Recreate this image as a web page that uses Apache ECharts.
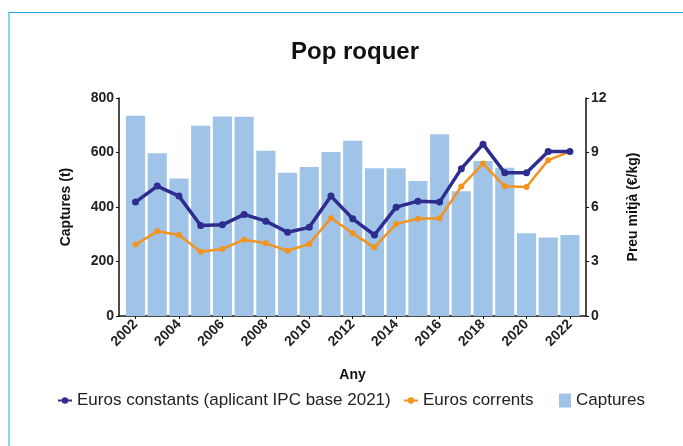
<!DOCTYPE html>
<html><head><meta charset="utf-8">
<script src="https://cdn.jsdelivr.net/npm/echarts@6/dist/echarts.min.js"></script>
<style>
html,body{margin:0;padding:0;background:#fff;}
#frame{position:absolute;left:8px;top:12px;width:700px;height:460px;border-top:1.5px solid #1ba2de;border-left:2px solid #8ed2f3;box-sizing:border-box;}
#chart{position:absolute;left:0;top:0;width:683px;height:446px;}
</style></head>
<body>
<div id="frame"></div>
<div id="chart"></div>
<script>
var years = [2002,2003,2004,2005,2006,2007,2008,2009,2010,2011,2012,2013,2014,2015,2016,2017,2018,2019,2020,2021,2022];
var captures = [735,597,505,698,732,731,606,526,547,602,643,542,542,495,667,458,569,544,304,288,297];
var eurosConstants = [6.27,7.15,6.6,4.98,5.02,5.59,5.22,4.61,4.88,6.6,5.35,4.46,5.99,6.32,6.27,8.11,9.46,7.88,7.88,9.05,9.05];
var eurosCorrents = [3.93,4.66,4.46,3.54,3.69,4.2,4.0,3.59,3.96,5.4,4.55,3.78,5.07,5.35,5.38,7.13,8.39,7.14,7.1,8.58,9.05];
var xTickLabels = [2002,2004,2006,2008,2010,2012,2014,2016,2018,2020,2022];
var leftTicks = [0,200,400,600,800];
var rightTicks = [0,3,6,9,12];

function pairs(vals){ return years.map(function(y,i){ return [y, vals[i]]; }); }

var FONT = '"Liberation Sans", Arial, sans-serif';
var chart = echarts.init(document.getElementById('chart'), null, {renderer:'canvas'});
var axisLabelStyle = {fontFamily: FONT, fontSize: 14, fontWeight: 'bold', color: '#222'};
var legendText = {fontFamily: FONT, fontSize: 17, color: '#222'};
chart.setOption({
  animation: false,
  title: {text: 'Pop roquer', left: 350, top: 35, textAlign: 'center',
    textStyle: {fontFamily: FONT, fontSize: 24, fontWeight: 'bold', color: '#111'}},
  grid: {left: 119, right: 97, top: 98, bottom: 130},
  legend: [
    {left: 52, top: 387, itemWidth: 14, itemHeight: 8, itemGap: 0, textStyle: legendText, data: [{name: 'Euros constants (aplicant IPC base 2021)'}]},
    {left: 398, top: 387, itemWidth: 14, itemHeight: 8, itemGap: 0, textStyle: legendText, data: [{name: 'Euros corrents'}]},
    {left: 554, top: 387, itemWidth: 12, itemHeight: 14, itemGap: 0, textStyle: legendText, data: [{name: 'Captures', icon: 'rect'}]}
  ],
  xAxis: {
    type: 'value', min: 2001.24, max: 2022.74,
    name: 'Any', nameLocation: 'middle', nameGap: 52,
    nameTextStyle: {fontFamily: FONT, fontSize: 14, fontWeight: 'bold', color: '#111'},
    axisLine: {show: true, lineStyle: {color: '#111', width: 1.5}},
    axisTick: {show: true, length: 3, lineStyle: {color: '#111'}, customValues: xTickLabels},
    axisLabel: Object.assign({rotate: 45, margin: 6, customValues: xTickLabels, formatter: function(v){return String(v);}}, axisLabelStyle),
    splitLine: {show: false}
  },
  yAxis: [
    {type: 'value', min: 0, max: 800, interval: 200, position: 'left',
      name: 'Captures (t)', nameLocation: 'middle', nameGap: 46,
      nameTextStyle: {fontFamily: FONT, fontSize: 14, fontWeight: 'bold', color: '#111'},
      axisLine: {show: true, lineStyle: {color: '#111', width: 1.5}},
      axisTick: {show: true, length: 3, lineStyle: {color: '#111'}},
      axisLabel: Object.assign({margin: 5}, axisLabelStyle),
      splitLine: {show: false}},
    {type: 'value', min: 0, max: 12, interval: 3, position: 'right',
      name: 'Preu mitjà (€/kg)', nameLocation: 'middle', nameGap: 40,
      nameTextStyle: {fontFamily: FONT, fontSize: 14, fontWeight: 'bold', color: '#111'},
      axisLine: {show: true, lineStyle: {color: '#111', width: 1.5}},
      axisTick: {show: true, length: 3, lineStyle: {color: '#111'}},
      axisLabel: Object.assign({margin: 5}, axisLabelStyle),
      splitLine: {show: false}}
  ],
  series: [
    {name: 'Captures', type: 'bar', yAxisIndex: 0, data: pairs(captures), barCategoryGap: '12%',
      itemStyle: {color: '#9fc4e8'}, z: 1},
    {name: 'Euros constants (aplicant IPC base 2021)', type: 'line', yAxisIndex: 1, data: pairs(eurosConstants),
      symbol: 'circle', symbolSize: 7, lineStyle: {color: '#2e2c8e', width: 3.5},
      itemStyle: {color: '#2e2c8e'}, z: 3},
    {name: 'Euros corrents', type: 'line', yAxisIndex: 1, data: pairs(eurosCorrents),
      symbol: 'circle', symbolSize: 6, lineStyle: {color: '#f2941f', width: 2.5},
      itemStyle: {color: '#f2941f'}, z: 2}
  ]
});
</script>
</body></html>
